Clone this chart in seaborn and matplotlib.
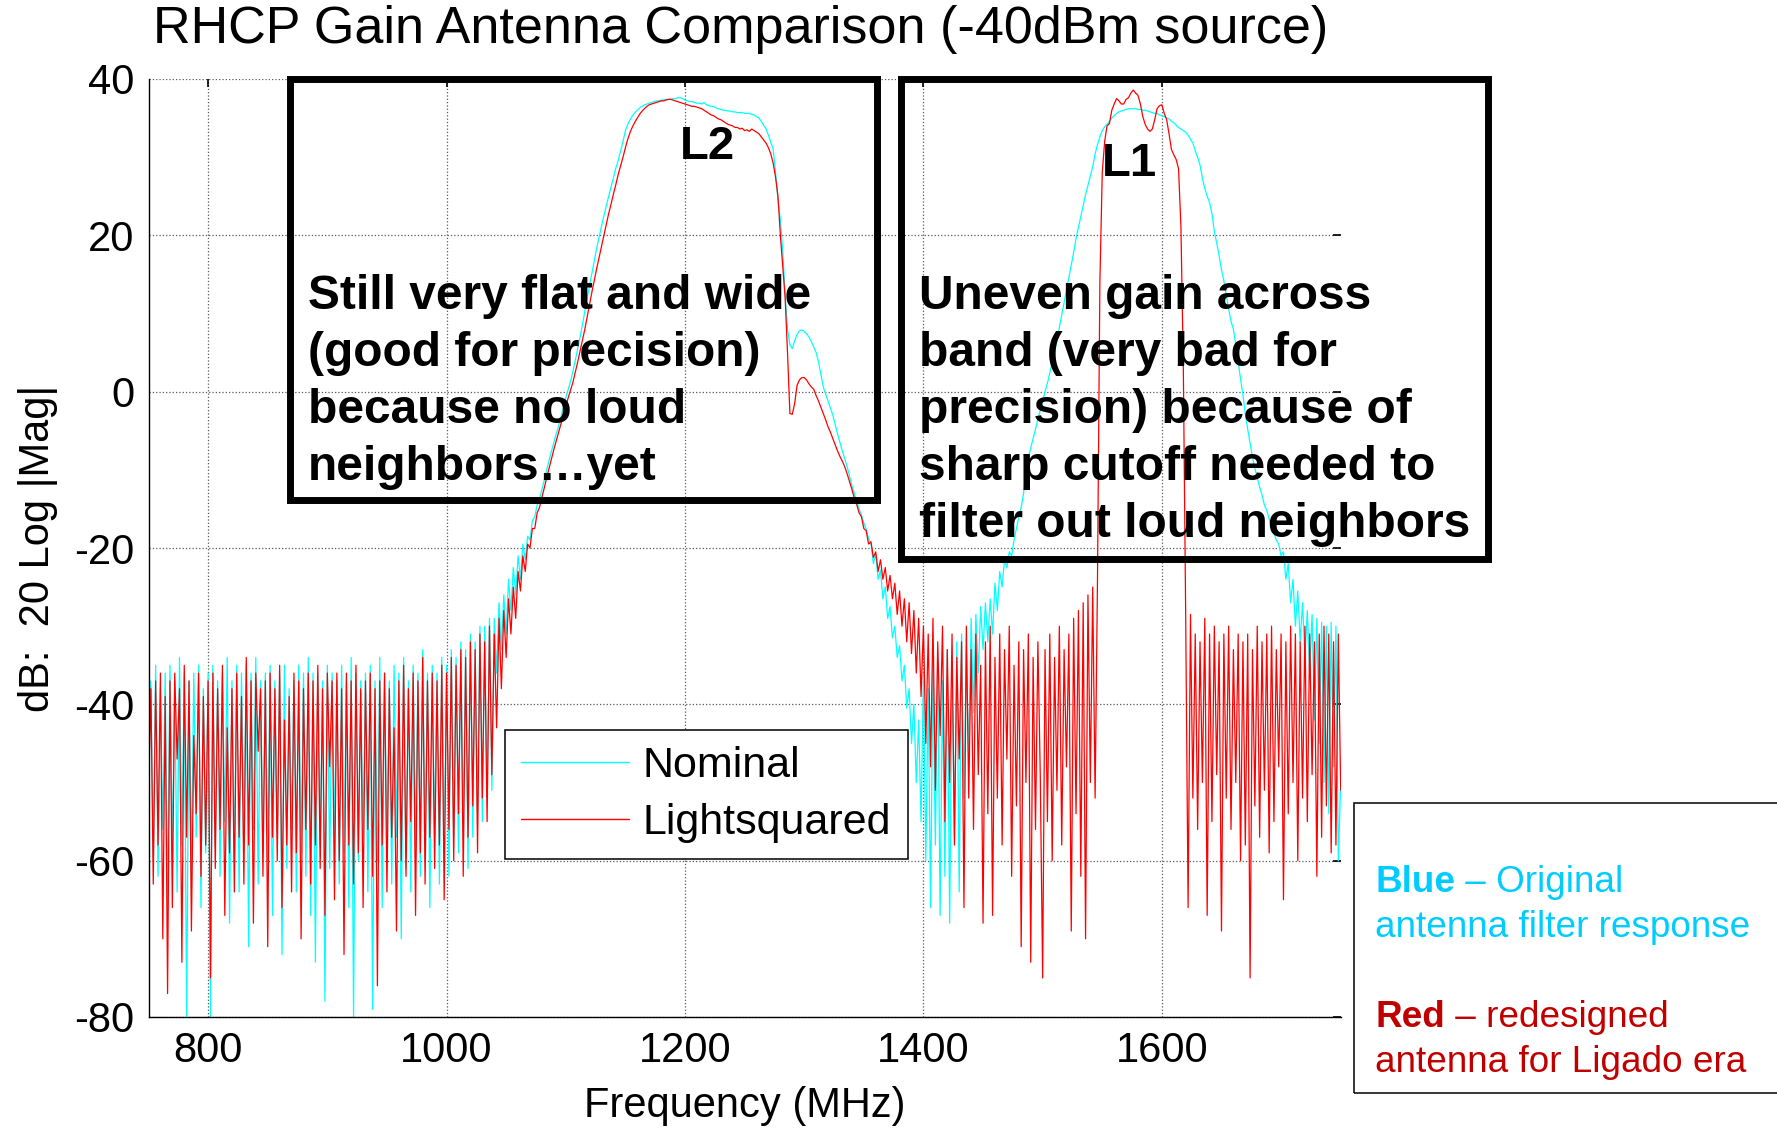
import numpy as np
import pandas as pd
import matplotlib
matplotlib.use("Agg")
import matplotlib.pyplot as plt
from matplotlib.patches import Rectangle
from matplotlib.lines import Line2D
import seaborn as sns

# ==========================
# 1. Data (dB vs MHz, 2 MHz steps)
# ==========================
freq_low = np.arange(750, 1040, 2)
freq_l2 = np.arange(1040, 1400, 2)
freq_mid = np.arange(1400, 1550, 2)
freq_l1 = np.arange(1550, 1620, 2)
freq_high = np.arange(1620, 1752, 2)

# Nominal antenna (cyan)
nominal_low = [
    -48, -37, -60, -35, -62, -38, -56, -36, -66, -35,
    -59, -37, -64, -34, -58, -36, -80, -37, -61, -36,
    -57, -35, -66, -38, -59, -36, -80, -35, -58, -37,
    -62, -36, -55, -34, -68, -37, -60, -35, -64, -36,
    -58, -35, -71, -36, -56, -34, -63, -37, -59, -36,
    -60, -35, -67, -37, -57, -36, -72, -35, -61, -38,
    -56, -37, -64, -35, -59, -36, -62, -34, -67, -36,
    -73, -36, -58, -37, -78, -35, -61, -36, -57, -37,
    -63, -35, -59, -37, -66, -34, -80, -36, -60, -37,
    -57, -36, -64, -35, -79, -37, -60, -34, -66, -36,
    -58, -37, -63, -35, -57, -36, -70, -34, -61, -37,
    -64, -35, -58, -36, -62, -33, -57, -36, -66, -35,
    -57, -36, -63, -34, -59, -35, -62, -33, -57, -34,
    -59, -32, -56, -33, -61, -31, -57, -32, -54, -30,
    -55, -30, -52, -29, -51,
]
nominal_l2 = [
    -29, -36, -27, -33, -26, -31, -24, -28, -22.5, -26,
    -21, -24, -19.5, -21.5, -18.5, -19, -16.5, -16, -14.5, -13.7,
    -12.5, -11.3, -10, -8.8, -7.6, -6.5, -5.4, -4.4, -3.2, -2,
    -0.8, 0.3, 1.3, 2.6, 4, 5.5, 7, 8.6, 10.3, 12,
    13.6, 15.2, 16.8, 18.4, 19.8, 21.2, 22.5, 23.8, 25, 26.2,
    27.4, 28.6, 29.6, 30.8, 32, 33.4, 34.2, 34.8, 35.3, 35.7,
    36, 36.3, 36.5, 36.7, 36.8, 36.9, 37, 37.1, 37.2, 37.2,
    37.3, 37.3, 37.4, 37.4, 37.4, 37.5, 37.5, 37.6, 37.6, 37.5,
    37.3, 37.2, 37.1, 37.1, 37, 36.9, 36.9, 36.8, 37, 36.7,
    36.6, 36.5, 36.5, 36.3, 36.2, 36.1, 36, 36, 35.9, 35.9,
    35.8, 35.8, 35.7, 35.7, 35.7, 35.6, 35.6, 35.6, 35.5, 35.4,
    35.2, 35, 34.6, 34.1, 33.6, 32.8, 31.9, 31, 28, 24.5,
    22, 18, 12.4, 8, 6, 5.5, 6.5, 7.3, 7.8, 7.9,
    7.7, 7.4, 7, 6.4, 5.7, 5, 3.8, 2.2, 0.6, -0.3,
    -1.2, -2.1, -3, -4.2, -5.4, -6.5, -7.6, -8.6, -9.6, -10.8,
    -12, -13, -14, -15, -15.8, -16.8, -17.6, -18.8, -19.4, -22,
    -20.8, -24, -22.8, -26.5, -25, -29, -27.5, -31.5, -30, -34,
    -32.5, -37, -35, -40.5, -38, -45, -40, -50, -42, -55,
]
nominal_mid = [
    -36, -60, -38, -66, -35, -58, -34, -67, -37, -62,
    -33, -68, -35, -57, -32, -64, -31, -52, -33, -47,
    -29, -41, -28.5, -36, -27.5, -33, -27, -32, -26.5, -31,
    -24.5, -28, -23, -25, -21.5, -22.5, -20.5, -21, -19, -17.5,
    -16, -14.8, -13, -10.5, -8.5, -7.2, -6, -4.8, -3.5, -2.4,
    -1.3, 0, 1.1, 2.4, 3.7, 5, 6.6, 8.2, 9.8, 11.4,
    13, 14.6, 16.2, 17.8, 19.6, 21, 22.4, 23.8, 25.2, 26.4,
    27.6, 28.8, 30.4, 31.6, 32.6,
]
nominal_l1 = [
    33.4, 33.9, 34.2, 34.6, 35, 35.3, 35.6, 35.8, 35.9, 36,
    36.1, 36.2, 36.2, 36.2, 36.2, 36.1, 36.1, 36, 36, 35.9,
    35.8, 35.7, 35.6, 35.6, 35.4, 35.3, 35.2, 35, 34.9, 34.6,
    34.4, 34.1, 33.8, 33.6, 33.4,
]
nominal_high = [
    33.2, 32.8, 32.3, 31.8, 30.8, 30, 29, 27.3, 26, 25,
    24.2, 22.8, 20.5, 19, 17.4, 15.6, 14.2, 12.4, 10.6, 9,
    8, 6, 3.8, 1.6, -0.4, -2.8, -4.8, -6.6, -8.4, -9.8,
    -11, -12.2, -13.2, -14.5, -15.2, -16.3, -17.2, -18, -19, -19.5,
    -21, -20.5, -24, -22, -27, -24, -30, -25.5, -32, -27,
    -34, -28, -36, -28.5, -42, -29, -45, -29.5, -50, -30,
    -54, -29.5, -48, -30, -60, -50,
]

# Lightsquared redesign (red)
light_low = [
    -52, -38, -63, -37, -58, -36, -70, -39, -77, -37,
    -66, -36, -47, -38, -73, -35, -57, -37, -69, -44,
    -54, -36, -62, -39, -58, -37, -75, -36, -61, -38,
    -56, -35, -67, -43, -59, -38, -64, -36, -57, -39,
    -63, -34, -58, -37, -68, -36, -46, -38, -62, -37,
    -71, -36, -57, -38, -60, -35, -66, -42, -58, -39,
    -64, -36, -59, -37, -70, -38, -56, -36, -63, -37,
    -58, -35, -61, -38, -67, -36, -48, -37, -65, -36,
    -60, -38, -72, -36, -58, -37, -63, -35, -59, -38,
    -66, -37, -56, -36, -62, -38, -76, -37, -58, -36,
    -64, -38, -57, -43, -69, -37, -60, -35, -62, -38,
    -55, -36, -67, -37, -59, -34, -63, -37, -57, -36,
    -61, -37, -58, -35, -65, -36, -56, -34, -60, -35,
    -54, -33, -62, -34, -57, -32, -53, -33, -59, -31,
    -52, -32, -55, -30, -49,
]
light_l2 = [
    -31, -43, -29, -38, -28, -34, -26.5, -31, -25, -29,
    -23, -25.5, -21, -23, -19.5, -20, -17.5, -17.5, -15.5, -14.8,
    -13.5, -12.3, -11, -9.8, -8.6, -7.4, -6.3, -5.2, -4.1, -3,
    -1.9, -0.8, 0.2, 1.2, 2.5, 3.8, 5.2, 6.6, 8, 9.6,
    11.2, 12.8, 14.3, 15.8, 17.2, 18.6, 20, 21.4, 22.8, 24,
    25.3, 26.5, 27.8, 28.9, 30, 31.2, 32.3, 33.2, 33.9, 34.5,
    35, 35.5, 35.9, 36.2, 36.5, 36.7, 36.8, 36.9, 37, 37.1,
    37.2, 37.2, 37.3, 37.4, 37.4, 37.3, 37.2, 37.1, 37, 36.9,
    36.8, 36.7, 36.6, 36.5, 36.5, 36.4, 36.3, 36.2, 36, 35.8,
    35.6, 35.4, 35.3, 35.1, 34.9, 34.8, 34.6, 34.4, 34.2, 34.1,
    34, 33.8, 33.8, 33.6, 33.7, 33.4, 33.5, 33.3, 33.6, 33.4,
    33.2, 33, 32.6, 32.2, 31.8, 31.2, 30.4, 29.2, 27.4, 25,
    20, 16, 12, 5, -2.8, -2.9, -1.5, 0.8, 1.5, 1.8,
    1.8, 1.5, 1, 0.6, 0.3, -0.5, -1.2, -2, -2.8, -3.6,
    -4.5, -5.2, -6, -6.8, -7.6, -8.3, -8.9, -9.6, -10.5, -11.5,
    -12.5, -13.6, -14.4, -15.5, -16, -17.5, -17.8, -19.5, -19.2, -21.2,
    -20.5, -23, -21.5, -24, -22.5, -25.5, -23.5, -26.5, -24.5, -28.5,
    -25.5, -30, -26.5, -32, -27, -33.5, -28, -36, -29, -39,
]
light_mid = [
    -30, -45, -31, -48, -29, -51, -32, -44, -30, -55,
    -33, -50, -31, -58, -34, -47, -32, -66, -30, -52,
    -33, -56, -31, -49, -35, -68, -32, -54, -30, -67,
    -34, -52, -31, -58, -33, -47, -30, -62, -35, -53,
    -32, -71, -33, -50, -31, -73, -34, -56, -32, -49,
    -75, -33, -55, -31, -60, -34, -51, -30, -58, -33,
    -48, -31, -69, -29, -54, -28, -62, -27, -70, -26,
    -50, -25, -52, -24, 14,
]
light_l1 = [
    28, 32, 34, 34.3, 36, 36.8, 37.5, 37.2, 36.8, 36.8,
    37.4, 37.6, 38.2, 38.6, 38.2, 37.9, 36.8, 35.2, 34.2, 33.6,
    33.3, 33.6, 34.8, 36.2, 36.6, 36.7, 35.6, 34.8, 33, 31,
    30.3, 29.7, 28.5, 21, 3,
]
light_high = [
    -29, -66, -28.5, -52, -31, -56, -32, -50, -29, -67,
    -31, -55, -30, -49, -32, -69, -31, -52, -30, -56,
    -33, -50, -31, -60, -32, -58, -31, -75, -33, -53,
    -30, -57, -32, -51, -31, -59, -30, -55, -33, -48,
    -31, -65, -32, -54, -30, -50, -31, -60, -32, -52,
    -30, -55, -31, -49, -32, -62, -31, -57, -30, -53,
    -31, -59, -32, -58, -31, -51,
]

series_names = ["Nominal", "Lightsquared"]
series_colors = ["cyan", "red"]

x_ticks = [800, 1000, 1200, 1400, 1600]
y_ticks = [-80, -60, -40, -20, 0, 20, 40]

freq_all = np.concatenate([freq_low, freq_l2, freq_mid, freq_l1, freq_high])
nominal = np.concatenate([nominal_low, nominal_l2, nominal_mid, nominal_l1, nominal_high])
light = np.concatenate([light_low, light_l2, light_mid, light_l1, light_high])

df = pd.concat([
    pd.DataFrame({"freq": freq_all, "gain": nominal, "antenna": series_names[0]}),
    pd.DataFrame({"freq": freq_all, "gain": light, "antenna": series_names[1]}),
], ignore_index=True)

# ==========================
# 2. Figure
# ==========================
sns.set_style("white")
plt.rcParams["font.family"] = ["Liberation Sans", "DejaVu Sans"]
plt.rcParams["axes.unicode_minus"] = False
for key in ["text.color", "axes.labelcolor", "xtick.color", "ytick.color"]:
    plt.rcParams[key] = "black"

W, H = 1777, 1128
fig = plt.figure(figsize=(W / 100, H / 100), dpi=100)


def fx(x):
    return x / W


def fy(y):
    return 1 - y / H


ax = fig.add_axes([fx(148.5), fy(1017), (1340.7 - 148.5) / W, (1017 - 79) / H])

sns.lineplot(data=df, x="freq", y="gain", hue="antenna",
             hue_order=series_names,
             palette=dict(zip(series_names, series_colors)),
             estimator=None, sort=False, lw=0.9, legend=False, ax=ax)

ax.set_xlim(750, 1750)
ax.set_ylim(-80, 40)
ax.set_xticks(x_ticks)
ax.set_yticks(y_ticks)
ax.grid(True, ls=":", color="0.35", lw=0.9)
ax.set_axisbelow(True)
for side in ["top", "right"]:
    ax.spines[side].set_visible(False)
for side in ["left", "bottom"]:
    ax.spines[side].set_color("black")
    ax.spines[side].set_linewidth(1.0)
ax.tick_params(direction="in", length=6, width=1.2, labelsize=30,
               top=True, right=True, pad=10, colors="black")
ax.set_xlabel("Frequency (MHz)", fontsize=30, labelpad=11)
ax.set_ylabel("dB:  20 Log |Mag|", fontsize=30, labelpad=12)

fig.text(fx(741), fy(30), "RHCP Gain Antenna Comparison (-40dBm source)",
         fontsize=37.5, ha="center", va="center")

ax.text(1219, 31.3, "L2", fontsize=34, fontweight="bold", ha="center", va="center")
ax.text(1573, 29.1, "L1", fontsize=34, fontweight="bold", ha="center", va="center")

handles = [Line2D([], [], color=c, lw=1.0) for c in series_colors]
leg = ax.legend(handles, series_names, loc="upper left",
                bbox_to_anchor=(fx(505), fy(730)), bbox_transform=fig.transFigure,
                fontsize=31, frameon=True, fancybox=False, framealpha=1,
                edgecolor="black", handlelength=2.5, handletextpad=0.32,
                borderpad=0.38, labelspacing=0.38, borderaxespad=0)
leg.get_frame().set_linewidth(1.1)

# annotation boxes
for (x0, y0, x1, y1) in [(290, 79, 877, 500), (901, 79, 1488, 559)]:
    fig.patches.append(Rectangle((fx(x0), fy(y1)), (x1 - x0) / W, (y1 - y0) / H,
                                 transform=fig.transFigure, fill=False,
                                 edgecolor="black", lw=5, zorder=10))

left_lines = ["Still very flat and wide", "(good for precision)",
              "because no loud", "neighbors\u2026yet"]
right_lines = ["Uneven gain across", "band (very bad for",
               "precision) because of", "sharp cutoff needed to",
               "filter out loud neighbors"]
for i, s in enumerate(left_lines):
    fig.text(fx(308), fy(309 + 57 * i), s, fontsize=34.5, fontweight="bold",
             va="baseline", ha="left", zorder=11)
for i, s in enumerate(right_lines):
    fig.text(fx(919), fy(309 + 57 * i), s, fontsize=34.5, fontweight="bold",
             va="baseline", ha="left", zorder=11)

# colour key box, bottom right
fig.patches.append(Rectangle((fx(1353.5), fy(1093)), 500 / W, (1093 - 802.5) / H,
                             transform=fig.transFigure, fill=False,
                             edgecolor="black", lw=1.1, zorder=10))
renderer = fig.canvas.get_renderer()


def rich_line(x, y, parts, color, size=26.6):
    for s, weight in parts:
        t = fig.text(fx(x), fy(y), s, fontsize=size, color=color,
                     fontweight=weight, va="baseline", ha="left")
        x += t.get_window_extent(renderer=renderer).width


blue_c = "#00CCFF"
red_c = "#C00000"
rich_line(1375, 892, [("Blue", "bold"), (" \u2013 Original", "normal")], blue_c)
rich_line(1375, 937, [("antenna filter response", "normal")], blue_c)
rich_line(1375, 1027, [("Red", "bold"), (" \u2013 redesigned", "normal")], red_c)
rich_line(1375, 1072, [("antenna for Ligado era", "normal")], red_c)

fig.savefig("out.png", dpi=100)
